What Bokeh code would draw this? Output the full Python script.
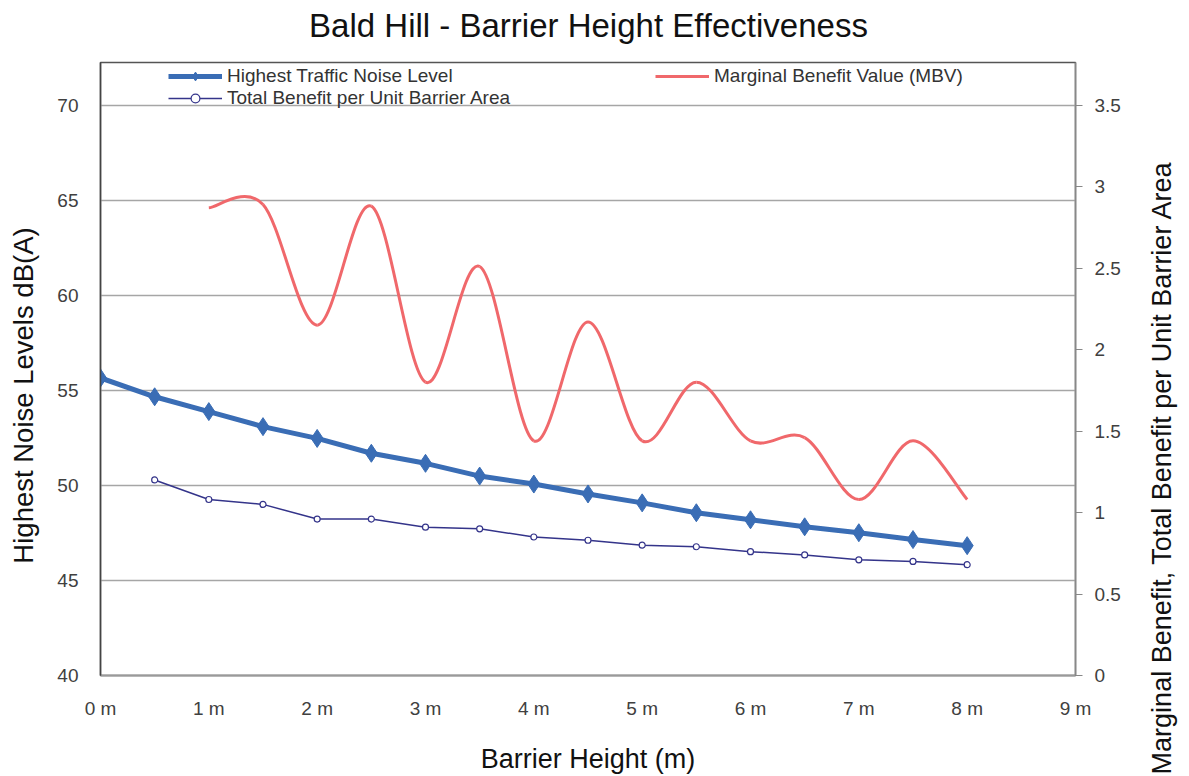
import math
from bokeh.plotting import figure
from bokeh.layouts import row, column
from bokeh.models import Range1d, LinearAxis, FixedTicker, Legend, LegendItem, Label
from bokeh.embed import file_html
from bokeh.resources import INLINE

# ---------------- data ----------------
title_text = "Bald Hill - Barrier Height Effectiveness"
x_label = "Barrier Height (m)"
left_label = "Highest Noise Levels dB(A)"
right_label = "Marginal Benefit, Total Benefit per Unit Barrier Area"

x_ticks = [0, 1, 2, 3, 4, 5, 6, 7, 8, 9]
x_tick_labels = ["0 m", "1 m", "2 m", "3 m", "4 m", "5 m", "6 m", "7 m", "8 m", "9 m"]
left_ticks = [40, 45, 50, 55, 60, 65, 70]
right_ticks = [0, 0.5, 1, 1.5, 2, 2.5, 3, 3.5]
right_tick_labels = ["0", "0.5", "1", "1.5", "2", "2.5", "3", "3.5"]

noise_heights = [0, 0.5, 1, 1.5, 2, 2.5, 3, 3.5, 4, 4.5, 5, 5.5, 6, 6.5, 7, 7.5, 8]
noise_levels = [55.65, 54.66, 53.88, 53.09, 52.47, 51.69, 51.16, 50.49, 50.07,
                49.55, 49.08, 48.56, 48.19, 47.82, 47.51, 47.15, 46.83]

tb_heights = [0.5, 1, 1.5, 2, 2.5, 3, 3.5, 4, 4.5, 5, 5.5, 6, 6.5, 7, 7.5, 8]
tb_values = [1.20, 1.08, 1.05, 0.96, 0.96, 0.91, 0.90, 0.85, 0.83, 0.80, 0.79,
             0.76, 0.74, 0.71, 0.70, 0.68]

mbv_heights = [1, 1.5, 2, 2.5, 3, 3.5, 4, 4.5, 5, 5.5, 6, 6.5, 7, 7.5, 8]
mbv_values = [2.87, 2.89, 2.15, 2.88, 1.80, 2.51, 1.44, 2.17, 1.44, 1.80, 1.44,
              1.46, 1.08, 1.44, 1.08]

# ---------------- layout sizes ----------------
W, H = 1189, 776
TOP_H = 61
LEFT_W, RIGHT_W = 48, 54
BODY_H = H - TOP_H
FONT = "Liberation Sans"

# ---------------- main figure ----------------
p = figure(width=W - LEFT_W - RIGHT_W, height=BODY_H, output_backend="svg",
           toolbar_location=None, title=None,
           x_range=Range1d(0, 9), y_range=Range1d(40, 72.243),
           min_border_left=52, min_border_right=60, min_border_top=1,
           min_border_bottom=96)
p.frame_align = False
p.extra_y_ranges = {"right": Range1d(0, 3.7617)}

p.outline_line_color = "#555555"
p.outline_line_width = 1.5
p.background_fill_color = "white"
p.border_fill_color = "white"

# x axis
xa = p.xaxis[0]
xa.ticker = FixedTicker(ticks=x_ticks)
xa.major_label_overrides = {t: l for t, l in zip(x_ticks, x_tick_labels)}
xa.major_tick_out = 0
xa.major_tick_in = 0
xa.minor_tick_out = 0
xa.minor_tick_in = 0
xa.axis_line_color = "#9a9a9a"
xa.axis_line_width = 2
xa.major_label_standoff = 22
xa.major_label_text_font = FONT
xa.major_label_text_font_size = "19px"
xa.major_label_text_color = "#404040"
xa.axis_label = x_label
xa.axis_label_text_font = FONT
xa.axis_label_text_font_size = "27px"
xa.axis_label_text_line_height = 1.0
xa.axis_label_text_font_style = "normal"
xa.axis_label_text_color = "#111111"
xa.axis_label_standoff = 22

# left axis
ya = p.yaxis[0]
ya.ticker = FixedTicker(ticks=left_ticks)
ya.major_tick_out = 0
ya.major_tick_in = 0
ya.minor_tick_out = 0
ya.minor_tick_in = 0
ya.axis_line_color = "#444444"
ya.axis_line_width = 1.5
ya.major_label_standoff = 22
ya.major_label_text_font = FONT
ya.major_label_text_font_size = "19px"
ya.major_label_text_color = "#404040"

# right axis
ra = LinearAxis(y_range_name="right", ticker=FixedTicker(ticks=right_ticks))
ra.major_label_overrides = {t: l for t, l in zip(right_ticks, right_tick_labels)}
ra.major_tick_out = 7
ra.major_tick_in = 0
ra.minor_tick_out = 0
ra.minor_tick_in = 0
ra.major_tick_line_color = "#888888"
ra.axis_line_color = "#888888"
ra.axis_line_width = 1.5
ra.major_label_standoff = 12
ra.major_label_text_font = FONT
ra.major_label_text_font_size = "19px"
ra.major_label_text_color = "#404040"
p.add_layout(ra, "right")

p.xgrid.visible = False
p.ygrid.ticker = FixedTicker(ticks=left_ticks)
p.ygrid.grid_line_color = "#a6a6a6"
p.ygrid.grid_line_width = 1.5

# ---------------- series ----------------
BLUE = "#3a6db5"
RED = "#f0686b"
NAVY = "#34348a"

# MBV smoothed line (Bezier segments through the data points)
n = len(mbv_heights)
bx0, by0, bx1, by1, cx0, cy0, cx1, cy1 = [], [], [], [], [], [], [], []
for i in range(n - 1):
    im = i - 1 if i > 0 else i
    ip = i + 2 if i + 2 < n else i + 1
    bx0.append(mbv_heights[i]); by0.append(mbv_values[i])
    bx1.append(mbv_heights[i + 1]); by1.append(mbv_values[i + 1])
    cx0.append(mbv_heights[i] + (mbv_heights[i + 1] - mbv_heights[im]) / 6)
    cy0.append(mbv_values[i] + (mbv_values[i + 1] - mbv_values[im]) / 6)
    cx1.append(mbv_heights[i + 1] - (mbv_heights[ip] - mbv_heights[i]) / 6)
    cy1.append(mbv_values[i + 1] - (mbv_values[ip] - mbv_values[i]) / 6)
mbv_r = p.bezier(x0=bx0, y0=by0, x1=bx1, y1=by1, cx0=cx0, cy0=cy0, cx1=cx1, cy1=cy1,
                 line_color=RED, line_width=3, y_range_name="right")

tb_line = p.line(tb_heights, tb_values, line_color=NAVY, line_width=1.5, y_range_name="right")
tb_pts = p.scatter(tb_heights, tb_values, marker="circle", size=6, fill_color="white",
                   line_color=NAVY, line_width=1.2, y_range_name="right")

noise_line = p.line(noise_heights, noise_levels, line_color=BLUE, line_width=5)
noise_pts = p.scatter(noise_heights, noise_levels, marker="diamond", size=18,
                      fill_color=BLUE, line_color=BLUE)

legend = Legend(items=[
    LegendItem(label="Highest Traffic Noise Level", renderers=[noise_line, noise_pts]),
    LegendItem(label="Total Benefit per Unit Barrier Area", renderers=[tb_line, tb_pts]),
    LegendItem(label="Marginal Benefit Value (MBV)", renderers=[mbv_r]),
], location=(68, 566), orientation="vertical", ncols=2, padding=0, margin=0, spacing=0,
    glyph_width=54, glyph_height=22, label_height=22, label_width=428, label_standoff=5,
    label_text_font=FONT, label_text_font_size="19px", label_text_color="#333333",
    border_line_color=None, background_fill_alpha=0)
p.add_layout(legend, "center")


# ---------------- text strips: chart title and rotated axis titles ----------------
def text_strip(width, height, text, cx, cy, size, angle):
    s = figure(width=width, height=height, output_backend="svg", toolbar_location=None,
               x_range=Range1d(0, width), y_range=Range1d(0, height),
               x_axis_location=None, y_axis_location=None, title=None,
               min_border=0, min_border_left=0, min_border_right=0,
               min_border_top=0, min_border_bottom=0)
    s.frame_align = False
    s.outline_line_color = None
    s.grid.visible = False
    s.background_fill_color = "white"
    s.border_fill_color = "white"
    s.add_layout(Label(x=cx, y=cy, text=text, angle=angle,
                       text_align="center", text_baseline="middle",
                       text_font=FONT, text_font_size=size, text_color="#111111"))
    return s


title_strip = text_strip(W, TOP_H, title_text, 588, TOP_H - 25, "33px", 0)
left_strip = text_strip(LEFT_W, BODY_H, left_label, 23, BODY_H - (395 - TOP_H), "27.5px", math.pi / 2)
right_strip = text_strip(RIGHT_W, BODY_H, right_label, 26, BODY_H - (467 - TOP_H), "27px", math.pi / 2)

layout = column(title_strip, row(left_strip, p, right_strip, spacing=0), spacing=0)

open("out.html", "w").write(file_html(layout, INLINE))
